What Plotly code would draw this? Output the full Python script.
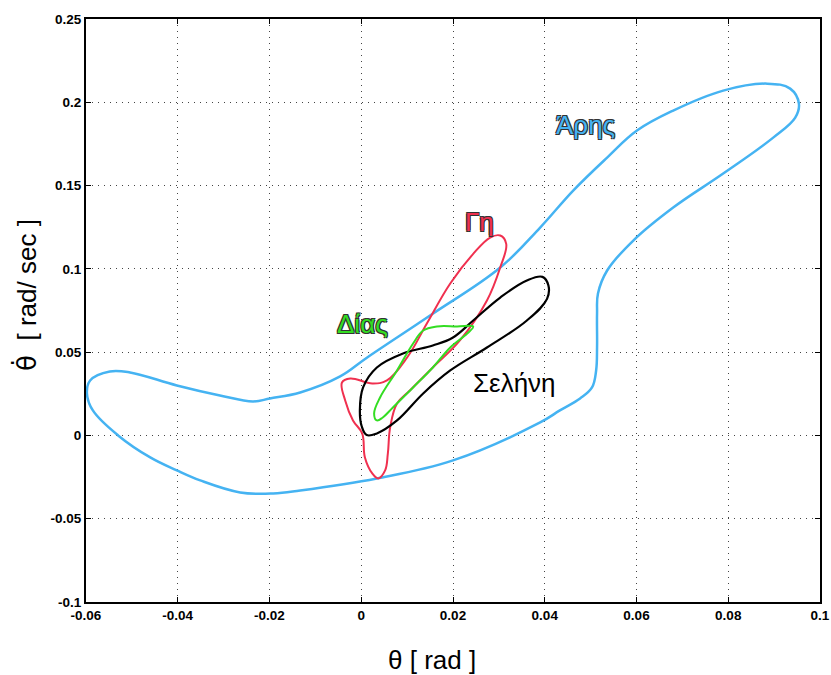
import plotly.graph_objects as go

# Phase-plane trajectories (theta vs theta-dot) for each body
mars_x = [-0.0402, -0.0308, -0.0236, -0.0199, -0.0133, -0.0046, 0.0013, 0.0150, 0.0303,
          0.0390, 0.0462, 0.0536, 0.0601, 0.0680, 0.0789, 0.0885, 0.0935, 0.0954, 0.0946,
          0.0898, 0.0789, 0.0680, 0.0593, 0.0536, 0.0516, 0.0514, 0.0514, 0.0512, 0.0503,
          0.0477, 0.0433, 0.0390, 0.0200, 0.0034, -0.0133, -0.0192, -0.0264, -0.0351,
          -0.0402, -0.0460, -0.0530, -0.0585, -0.0598, -0.0591, -0.0548, -0.0504, -0.0402]
mars_y = [0.030, 0.024, 0.0204, 0.0222, 0.0258, 0.0354, 0.0468, 0.072, 0.1008,
          0.1248, 0.147, 0.1668, 0.183, 0.195, 0.207, 0.2112, 0.2082, 0.1992, 0.1908,
          0.1788, 0.1572, 0.1368, 0.117, 0.099, 0.0852, 0.0732, 0.0528, 0.039, 0.0288,
          0.0222, 0.015, 0.0078, -0.015, -0.0258, -0.033, -0.0348, -0.0342, -0.027,
          -0.021, -0.0132, 0.0, 0.015, 0.0252, 0.033, 0.0384, 0.0378, 0.030]

earth_x = [0.0215, 0.0156, 0.0106, 0.0078, 0.0063, 0.0058, 0.0052, 0.0037, 0.0024, 0.0008,
           0.0002, -0.0018, -0.0035, -0.0042, -0.0024, 0.0024, 0.0056, 0.0100, 0.0143,
           0.0194, 0.0244, 0.0281, 0.0303, 0.0316, 0.0303, 0.0274, 0.0215]
earth_y = [0.057, 0.0408, 0.027, 0.0192, 0.0048, -0.0108, -0.021, -0.0258, -0.0228, -0.0132,
           0.0012, 0.009, 0.021, 0.0318, 0.0342, 0.0312, 0.033, 0.0468, 0.0672,
           0.0912, 0.109, 0.1188, 0.120, 0.115, 0.1009, 0.081, 0.057]

moon_x = [0.0194, 0.0135, 0.0078, 0.0034, 0.0012, 0.0001, -0.0003, 0.0004, 0.0034, 0.0091,
          0.0156, 0.0200, 0.0244, 0.0303, 0.0361, 0.0395, 0.0408, 0.0405, 0.0361, 0.0274,
          0.0194]
moon_y = [0.039, 0.0252, 0.009, 0.0012, 0.0002, 0.0055, 0.015, 0.0288, 0.0408, 0.0492,
          0.054, 0.0588, 0.069, 0.0828, 0.093, 0.0952, 0.090, 0.082, 0.069, 0.0528,
          0.039]

jupiter_x = [0.0244, 0.0231, 0.0194, 0.0156, 0.0113, 0.0069, 0.0047, 0.0034, 0.0028, 0.0041,
             0.0078, 0.0113, 0.0135, 0.0165, 0.0209, 0.0244]
jupiter_y = [0.0654, 0.0612, 0.0528, 0.0408, 0.0288, 0.0168, 0.0108, 0.009, 0.0132, 0.0228,
             0.039, 0.0552, 0.063, 0.0654, 0.0654, 0.0654]

x_ticks = [-0.06, -0.04, -0.02, 0, 0.02, 0.04, 0.06, 0.08, 0.1]
x_tick_text = ["-0.06", "-0.04", "-0.02", "0", "0.02", "0.04", "0.06", "0.08", "0.1"]
y_ticks = [-0.1, -0.05, 0, 0.05, 0.1, 0.15, 0.2, 0.25]
y_tick_text = ["-0.1", "-0.05", "0", "0.05", "0.1", "0.15", "0.2", "0.25"]

label_names = ["Άρης", "Γη", "Δίας", "Σελήνη"]
label_x = [0.0488, 0.0257, 0.0002, 0.0333]
label_y = [0.1866, 0.1284, 0.0666, 0.0312]

MARS = "#45b3f2"
EARTH = "#f0304f"
MOON = "#000000"
JUPITER = "#33dd22"

FONT = "Liberation Sans, Arial"

fig = go.Figure()
for xs, ys, col, w in [(mars_x, mars_y, MARS, 2.5), (earth_x, earth_y, EARTH, 2),
                       (moon_x, moon_y, MOON, 2.2), (jupiter_x, jupiter_y, JUPITER, 2)]:
    fig.add_trace(go.Scatter(x=xs, y=ys, mode="lines",
                             line=dict(color=col, width=w, shape="spline", smoothing=1.1),
                             hoverinfo="skip", showlegend=False))

outline = "-1px -1px 0 #333, 1px -1px 0 #333, -1px 1px 0 #333, 1px 1px 0 #333"
label_colors = [MARS, EARTH, JUPITER, MOON]
for name, lx, ly, col in zip(label_names, label_x, label_y, label_colors):
    fig.add_annotation(x=lx, y=ly, text=name, showarrow=False,
                       font=dict(family=FONT, size=26, color=col,
                                 shadow=outline if col != MOON else "none"))

axis_common = dict(showline=True, linecolor="black", linewidth=2, mirror="ticks",
                   ticks="inside", ticklen=5, tickcolor="black", tickwidth=1,
                   showgrid=True, gridcolor="#444444", griddash="1px,5px", gridwidth=1,
                   zeroline=False, automargin=False,
                   tickfont=dict(family=FONT, size=13.5, color="black", weight="bold"))

fig.update_xaxes(range=[-0.06, 0.1], tickvals=x_ticks, ticktext=x_tick_text, **axis_common)
fig.update_yaxes(range=[-0.1, 0.25], tickvals=y_ticks, ticktext=y_tick_text, **axis_common)

fig.add_annotation(xref="paper", yref="paper", x=0.471, y=-0.1, yanchor="middle",
                   text="θ [ rad ]", showarrow=False,
                   font=dict(family=FONT, size=26, color="black"))
fig.add_annotation(xref="paper", yref="paper", x=-0.081, y=0.526, xanchor="center",
                   text="<span style='font-family:DejaVu Sans'>θ̇</span>  [ rad/ sec ]",
                   showarrow=False, textangle=-90,
                   font=dict(family=FONT, size=26, color="black"))

fig.update_layout(width=831, height=675, margin=dict(l=86, r=11, t=19, b=73),
                  plot_bgcolor="white", paper_bgcolor="white")

fig.write_html("out.html")
